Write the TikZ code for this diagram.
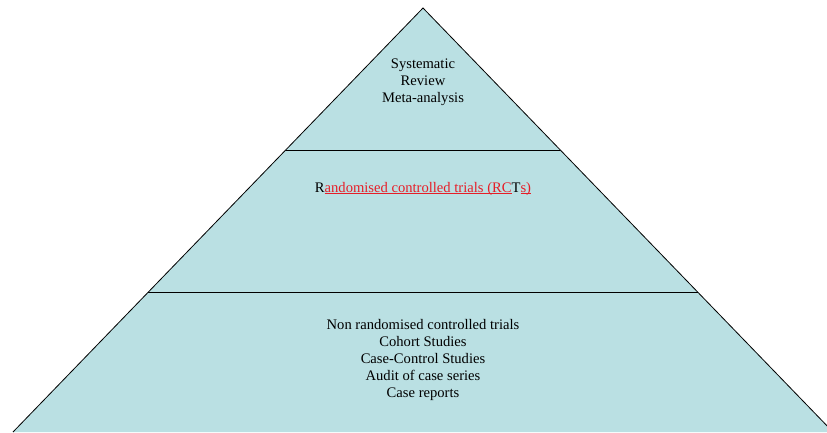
\documentclass[tikz,border=0pt]{standalone}
\usepackage{fontspec}
\setmainfont{Liberation Serif}
\usetikzlibrary{calc, positioning}
\definecolor{pyramid_teal}{RGB}{186, 224, 227}
\definecolor{link_red}{RGB}{230, 30, 40}
\newsavebox{\ulbox}
\newcommand{\redul}[1]{%
    {\color{link_red}%
    \sbox{\ulbox}{\color{link_red}#1}%
    \rlap{\rule[-1.6pt]{\wd\ulbox}{0.7pt}}\usebox{\ulbox}}}
\tikzset{
    tier_text/.style={
        align=center,
        font=\fontsize{14.6}{16.9}\selectfont,
        inner sep=0pt
    },
    tier_line/.style={
        draw=black,
        line width=1pt
    }
}

\begin{document}
\begin{tikzpicture}[x=1pt, y=-1pt]
\useasboundingbox (0,0) rectangle (827,432);
\clip (0,0) rectangle (827,432);

% Pyramid corners
\coordinate (apex) at (423,8);
\coordinate (base_left) at (13,432);
\coordinate (base_right) at (833,432);

% Tier boundaries
\coordinate (top_left) at ($(apex)!0.335!(base_left)$);
\coordinate (top_right) at ($(apex)!0.335!(base_right)$);
\coordinate (mid_left) at ($(apex)!0.670!(base_left)$);
\coordinate (mid_right) at ($(apex)!0.670!(base_right)$);

% Pyramid body
\fill[pyramid_teal] (apex) -- (base_left) -- (base_right) -- cycle;
\draw[line width=0.8pt] (base_left) -- (apex) -- (base_right);
\draw[tier_line] (top_left) -- (top_right);
\draw[tier_line] (mid_left) -- (mid_right);

% Top tier
\node[tier_text] (systematic) at (423,82) {
    Systematic\\
    Review\\
    Meta-analysis
};

% Middle tier
\node[tier_text] (rcts) at (423,189) {%
    R\redul{andomised controlled trials (RC}T\redul{s)}%
};

% Bottom tier
\node[tier_text] (nonrandom) at (423,360) {
    Non randomised controlled trials\\
    Cohort Studies\\
    Case-Control Studies\\
    Audit of case series\\
    Case reports
};

\end{tikzpicture}
\end{document}
